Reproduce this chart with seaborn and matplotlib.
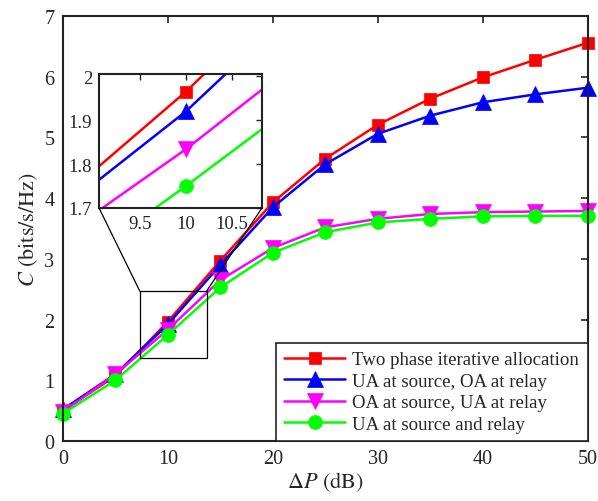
import numpy as np
import pandas as pd
import matplotlib
matplotlib.use("Agg")
import matplotlib.pyplot as plt
import seaborn as sns
from matplotlib.patches import Rectangle, ConnectionPatch

sns.set_theme(style="white")
plt.rcParams['font.family'] = ['Liberation Serif', 'DejaVu Serif']
plt.rcParams['mathtext.fontset'] = 'stix'

# ---- data ----
dP = [0, 5, 10, 15, 20, 25, 30, 35, 40, 45, 50]
two_phase = [0.50, 1.07, 1.965, 2.97, 3.93, 4.65, 5.21, 5.64, 5.99, 6.28, 6.56]
ua_oa = [0.52, 1.10, 1.92, 2.90, 3.85, 4.56, 5.06, 5.36, 5.58, 5.71, 5.82]
oa_ua = [0.48, 1.10, 1.834, 2.65, 3.18, 3.52, 3.66, 3.74, 3.77, 3.78, 3.79]
ua_ua = [0.45, 1.00, 1.75, 2.53, 3.10, 3.44, 3.60, 3.66, 3.70, 3.71, 3.71]
labels = ["Two phase iterative allocation", "UA at source, OA at relay",
          "OA at source, UA at relay", "UA at source and relay"]
series = [two_phase, ua_oa, oa_ua, ua_ua]
colors = ["#ff0000", "#0000ff", "#ff00ff", "#00ff00"]
markers = ["s", "^", "v", "o"]
msizes = [9, 11.5, 11.5, 10]

fig = plt.figure(figsize=(5.98, 5.02), dpi=100)
ax = fig.add_axes([0.105, 0.1195, 0.878, 0.8465])

for vals, lab, c, m, ms in zip(series, labels, colors, markers, msizes):
    sns.lineplot(x=dP, y=vals, ax=ax, color=c, marker=m, markersize=ms,
                 markeredgecolor=c, markeredgewidth=0.5, linewidth=1.8,
                 label=lab, clip_on=False)

ax.set_xlim(0, 50)
ax.set_ylim(0, 7)
ax.set_xticks([0, 10, 20, 30, 40, 50])
ax.set_yticks(range(0, 8))
ax.tick_params(direction='in', top=True, right=True, labelsize=14.5, length=5,
               width=1.2, color='#222222', pad=6)
for s in ax.spines.values():
    s.set_linewidth(1.5)
    s.set_color('#222222')
    s.set_visible(True)
ax.set_xlabel(r"$\Delta P\ (\mathrm{dB})$", fontsize=16, labelpad=1)
ax.set_ylabel(r"$C\ (\mathrm{bits/s/Hz})$", fontsize=16, labelpad=3)

leg = ax.legend(loc='lower right', fontsize=13.6, frameon=True, fancybox=False,
                framealpha=1, edgecolor='#222222', borderaxespad=0,
                handlelength=3.2, handletextpad=0.4, labelspacing=0.22,
                borderpad=0.45)
leg.get_frame().set_linewidth(1.2)

# zoom rectangle
rect = Rectangle((7.33, 1.37), 6.37, 1.10, fill=False, edgecolor='black', linewidth=0.9, zorder=5)
ax.add_patch(rect)

# inset
axi = fig.add_axes([0.1656, 0.5837, 0.2724, 0.2669])
for vals, c, m, ms in zip(series, colors, markers, msizes):
    sns.lineplot(x=dP, y=vals, ax=axi, color=c, marker=m, markersize=ms,
                 markeredgecolor=c, markeredgewidth=0.5, linewidth=1.8)
axi.set_xlim(9.05, 10.83)
axi.set_ylim(1.7, 2.005)
axi.set_xticks([9.5, 10, 10.5])
axi.set_xticklabels(["9.5", "10", "10.5"])
axi.set_yticks([1.7, 1.8, 1.9, 2.0])
axi.set_yticklabels(["1.7", "1.8", "1.9", "2"])
axi.tick_params(direction='in', top=True, right=True, labelsize=13.5, length=4,
                width=1.0, color='#222222', pad=5)
for s in axi.spines.values():
    s.set_linewidth(1.5)
    s.set_color('#222222')
    s.set_visible(True)

for (xa, ya), (xb, yb) in [((0, 0), (7.33, 2.47)), ((1, 0), (13.7, 2.47))]:
    con = ConnectionPatch(xyA=(xa, ya), coordsA=axi.transAxes,
                          xyB=(xb, yb), coordsB=ax.transData,
                          color='black', linewidth=0.9)
    fig.add_artist(con)

fig.savefig("out.png", dpi=100)
